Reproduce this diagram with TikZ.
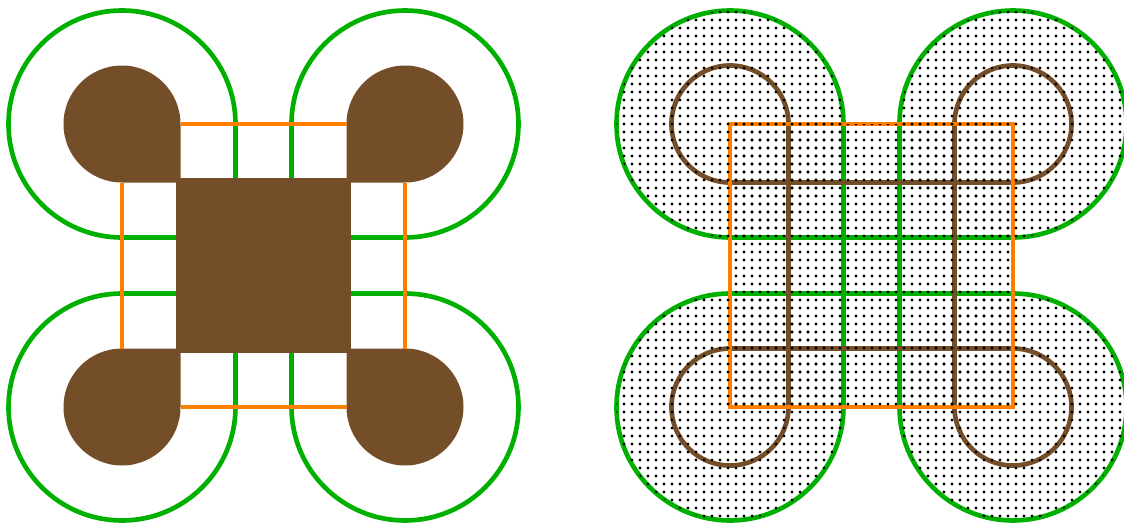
\documentclass[tikz,border=0pt]{standalone}
\usetikzlibrary{patterns}

\definecolor{leafgreen}{RGB}{0,176,0}
\definecolor{barkbrown}{RGB}{116,78,40}
\definecolor{rimorange}{RGB}{255,128,0}
\pgfdeclarepatternformonly{fatdots}{\pgfqpoint{-1pt}{-1pt}}{\pgfqpoint{1pt}{1pt}}{\pgfqpoint{3pt}{3pt}}%
  {\pgfpathcircle{\pgfqpoint{0pt}{0pt}}{.6pt}\pgfusepath{fill}}
\tikzset{
  greenline/.style={draw=leafgreen, line width=1.75pt},
  brownline/.style={draw=barkbrown, line width=1.75pt},
  orangeline/.style={draw=rimorange, line width=1.75pt},
  brownfill/.style={fill=barkbrown},
}

\begin{document}
\begin{tikzpicture}[x=0.375pt, y=0.375pt]
  \def\R{113.5} \def\r{58.5} \def\d{283}
  \useasboundingbox (0,0) rectangle (1124,524);
  % left: discs with one square quadrant, middle block, orange frame
  \foreach \cx/\cy/\t/\sx/\sy in {122/400/-45/1/-1, 405/400/225/-1/-1, 405/117/135/-1/1, 122/117/45/1/1} {
    \draw[greenline] (\cx,\cy) ++(\t+45:\R) arc[start angle=\t+45, delta angle=270, radius=\R]
      -- (\cx+\sx*\R,\cy+\sy*\R) -- cycle;
    \fill[brownfill] (\cx,\cy) ++(\t+45:\r) arc[start angle=\t+45, delta angle=270, radius=\r]
      -- (\cx+\sx*\r,\cy+\sy*\r) -- cycle;
  }
  \fill[brownfill] (176,171) rectangle (351,346);
  \draw[orangeline] (122+\r,400) -- (405-\r,400)
                    (122+\r,117) -- (405-\r,117)
                    (122,400-\r) -- (122,117+\r)
                    (405,400-\r) -- (405,117+\r);
  % right: the same loops run through, dotted union on top
  \begin{scope}[xshift=228pt]
    \foreach \rr/\st in {\R/greenline, \r/brownline}
      \draw[\st] (122+\rr,400) arc[start angle=0, delta angle=270, radius=\rr]
        -- ++(\d,0) arc[start angle=270, delta angle=270, radius=\rr]
        -- ++(0,-\d) arc[start angle=180, delta angle=270, radius=\rr]
        -- ++(-\d,0) arc[start angle=90, delta angle=270, radius=\rr] -- cycle;
    \draw[orangeline] (122,117) rectangle (405,400);
    \foreach \cx/\cy in {122/400, 405/400, 405/117, 122/117}
      \fill[pattern=fatdots] (\cx,\cy) circle[radius=\R];
    \fill[pattern=fatdots] (122,117) rectangle (405,400);
  \end{scope}
\end{tikzpicture}
\end{document}
